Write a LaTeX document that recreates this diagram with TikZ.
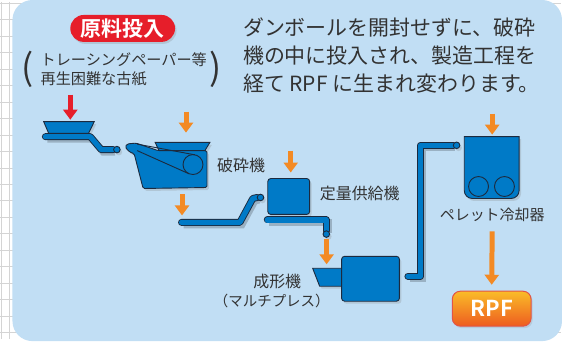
\documentclass[tikz,border=0pt]{standalone}
\usepackage{fontspec}
\newfontfamily\jpfont{Noto Sans CJK JP}[BoldFont={Noto Sans CJK JP Bold}]
\usepackage{xcolor}
\definecolor{rpfpanel}{RGB}{193,222,244}
\definecolor{rpfgrid}{RGB}{212,212,212}
\definecolor{rpfblue}{RGB}{0,122,199}
\definecolor{rpfline}{RGB}{28,42,62}
\definecolor{rpforange}{RGB}{243,138,36}
\definecolor{rpfred}{RGB}{230,30,42}
\definecolor{rpftext}{RGB}{50,50,50}
\definecolor{rpfyellow}{RGB}{250,188,40}
\definecolor{rpfdeep}{RGB}{238,92,32}
\definecolor{rpfedge}{RGB}{226,84,70}
\usetikzlibrary{arrows.meta,shadows}

\begin{document}
\begin{tikzpicture}[x=1pt,y=-1pt,
  machine/.style={fill=rpfblue,draw=rpfline,line width=0.9pt,
    drop shadow={shadow xshift=2pt,shadow yshift=-2.5pt,opacity=0.25}},
  belt/.style={draw=rpfline,line width=7pt,line cap=round,line join=round,
    preaction={draw=black,opacity=0.2,line width=7pt,transform canvas={shift={(2pt,-2.5pt)}}},
    postaction={draw=rpfblue,line width=5.2pt}},
  feedarr/.style={-{Triangle[width=14pt,length=10pt]},line width=5pt,rpforange},
  mlabel/.style={font=\jpfont\fontsize{16}{18}\selectfont,text=rpftext,inner sep=0pt}
]
  % Background grid and panel
  \fill[white] (0,0) rectangle (562,338);
  \foreach \y in {1.5,18,...,338} \draw[rpfgrid,line width=1pt] (0,\y) -- (562,\y);
  \foreach \x in {1,9} \draw[rpfgrid,line width=1pt] (\x,0) -- (\x,338);
  \fill[rpfpanel,rounded corners=20pt] (12,-2) rectangle (563,340);
  \useasboundingbox (0,0) rectangle (562,338);

  % Headline texts
  \node[fill=rpfred,rounded corners=13.5pt,minimum width=105pt,minimum height=27pt,inner sep=0pt,
    text=white,font=\jpfont\bfseries\fontsize{21}{21}\selectfont,
    drop shadow={shadow xshift=1.5pt,shadow yshift=-2pt,opacity=0.25}] (genryo) at (122.5,26.5) {原料投入};
  \node[anchor=west,align=left,inner sep=0pt,text=rpftext,
    font=\jpfont\fontsize{15.2}{19}\selectfont] (kind) at (40,67.5) {トレーシングペーパー等\\再生困難な古紙};
  \node[inner sep=0pt,text=rpftext,font=\jpfont\fontsize{36}{36}\selectfont] (lpar) at (27,68) {(};
  \node[inner sep=0pt,text=rpftext,font=\jpfont\fontsize{36}{36}\selectfont] (rpar) at (216,68) {)};
  \node[anchor=north west,align=left,inner sep=0pt,text=rpftext,
    font=\jpfont\fontsize{21}{28}\selectfont] (intro) at (243,16)
    {ダンボールを開封せずに、破砕\\機の中に投入され、製造工程を\\経て RPF に生まれ変わります。};

  % Hopper and first conveyor
  \filldraw[machine] (43.3,120) -- (94,120) -- (88.3,131.7) -- (48.3,131.7) -- cycle;
  \draw[belt] (45,135) -- (90,135) -- (101,148) -- (113,148);
  \filldraw[machine] (116.7,148) circle (3.3);

  % Crusher
  \filldraw[machine] (155,140.7) -- (210,140.7) -- (205,149) -- (159,149) -- cycle;
  \filldraw[machine,rounded corners=1.5pt] (125,145.5) -- (127,142.3) -- (136,141.5) -- (158,149)
    -- (207,149) -- (207,186) -- (143,187) -- (134,152) -- (129.5,150.5) -- cycle;
  \draw[rpfline,line width=0.9pt] (137,142.5) -- (194.8,153.2);
  \draw[rpfline,line width=0.9pt] (137,149) -- (188.9,172.2);
  \draw[rpfline,line width=0.9pt] (193,163) circle (10);
  \node[mlabel,anchor=west] (crushlbl) at (217,164) {破砕機};

  % Second conveyor and feeder
  \draw[belt] (181.5,221) -- (240,221) -- (253,197) -- (257.5,196);
  \filldraw[machine] (260.7,196) circle (3.3);
  \filldraw[machine,rounded corners=3pt] (268,177) rectangle (310,213);
  \draw[belt] (267.5,218.5) -- (326.5,218.5) -- (326.5,229.5);
  \filldraw[machine] (326.7,232.7) circle (3.3);
  \node[mlabel,anchor=west] (feedlbl) at (320,192) {定量供給機};

  % Molding press
  \filldraw[machine] (313,267) -- (342,267) -- (342,285) -- (320,285) -- cycle;
  \filldraw[machine,rounded corners=3pt] (342,255) rectangle (400,300);
  \node[mlabel] (presslbl) at (277.5,280) {成形機};
  \node[mlabel,font=\jpfont\fontsize{14.5}{16}\selectfont] (presssub) at (272,300) {（マルチプレス）};

  % Lift conveyor and cooler
  \draw[belt] (408.5,275) -- (421,275) -- (421,143.7) -- (454,143.7);
  \filldraw[machine] (457.3,143.7) circle (3.3);
  \filldraw[machine] (465,135) -- (520,135) -- (520,189) arc[start angle=0,end angle=90,radius=8]
    -- (473,197) arc[start angle=90,end angle=180,radius=8] -- cycle;
  \draw[rpfline,line width=0.9pt] (479.3,185) circle (10) (505.3,185) circle (10);
  \node[mlabel,font=\jpfont\fontsize{15}{17}\selectfont] (coollbl) at (493,213) {ペレット冷却器};

  % Product
  \node[top color=rpfyellow,bottom color=rpfdeep,draw=rpfedge,line width=1pt,rounded corners=8pt,
    minimum width=79pt,minimum height=35pt,inner sep=0pt,text=white,
    font=\jpfont\bfseries\fontsize{22}{22}\selectfont,
    drop shadow={shadow xshift=1.5pt,shadow yshift=-2pt,opacity=0.2}] (rpf) at (492.5,307.5) {RPF};

  % Feed arrows
  \coordinate (in0) at (70,93);     \coordinate (in0e) at (70,118);
  \coordinate (in1) at (186,110);   \coordinate (in1e) at (186,131);
  \coordinate (out1) at (182,193);  \coordinate (out1e) at (182,214);
  \coordinate (in2) at (291,149);   \coordinate (in2e) at (291,171);
  \coordinate (in3) at (327,238);   \coordinate (in3e) at (327,263);
  \coordinate (in4) at (493,112);   \coordinate (in4e) at (493,133);
  \coordinate (out4) at (493,230);
  \draw[feedarr,rpfred] (in0) -- (in0e);
  \draw[feedarr] (in1) -- (in1e);
  \draw[feedarr] (out1) -- (out1e);
  \draw[feedarr] (in2) -- (in2e);
  \draw[feedarr] (in3) -- (in3e);
  \draw[feedarr] (in4) -- (in4e);
  \draw[feedarr] (out4) -- ([yshift=6pt]rpf.north);
\end{tikzpicture}
\end{document}
